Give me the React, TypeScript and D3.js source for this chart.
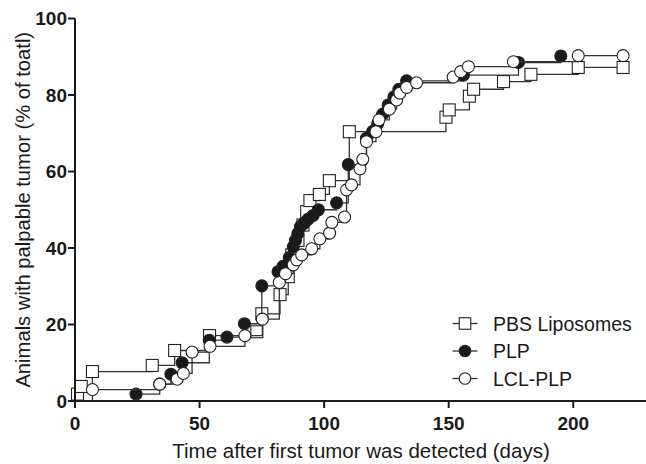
import React from "react";
import * as d3 from "d3";

const pbsDays = [1, 2.5, 7, 31, 40, 54, 73, 75, 82.3, 85.6, 87, 89.5, 91.5, 93, 94.3, 98.1, 102.1, 110.1, 148.9, 150.2, 158.3, 160, 172, 183, 202, 220];
const pbsPct = [1.8, 3.8, 7.7, 9.3, 13.2, 17.1, 18.1, 22.8, 27.8, 32.5, 38.2, 42, 46, 49.5, 52.4, 54, 57.6, 70.4, 74.2, 76.1, 79.7, 81.5, 83.5, 85.4, 87.2, 87.2];

const plpDays = [24.5, 34, 38.5, 43, 53.9, 61, 68, 75, 81.5, 83.5, 86, 87.6, 88.5, 89.5, 90.5, 92, 93.5, 95.6, 97.7, 105, 109.7, 117, 119.5, 121.5, 123.5, 125.7, 128, 130, 133.1, 155.9, 178, 195];
const plpPct = [1.8, 4.4, 7, 10, 15.9, 16.7, 20.2, 30.1, 33.8, 35.2, 37.5, 40.3, 42, 43.8, 45.6, 46.5, 47.5, 48.5, 50, 51.8, 61.8, 68.7, 70.5, 72.5, 75, 77.4, 79.5, 81.5, 83.7, 85.2, 88.5, 90.2];

const lclDays = [7, 34, 41, 43.5, 47, 54.2, 68.2, 75.2, 82, 84.5, 87.6, 89, 91, 95, 98.3, 102.2, 103.1, 108.2, 109, 111, 114.4, 115.5, 117, 120.8, 122, 126.2, 129.1, 130.4, 133.1, 137.1, 151.8, 154.8, 157.9, 176, 202, 220];
const lclPct = [3, 4.4, 5.7, 7.2, 12.8, 14.3, 17.1, 21.4, 31, 33.3, 35.6, 36.9, 38.2, 39.8, 42.4, 43.9, 46.7, 48.1, 55.2, 56.5, 60.7, 63.2, 67.8, 70.4, 73.5, 76.3, 78.7, 80.5, 82, 83.2, 84.7, 86.1, 87.4, 88.7, 90.3, 90.3];

const seriesNames = ["PBS Liposomes", "PLP", "LCL-PLP"];
const xTicks = [0, 50, 100, 150, 200];
const yTicks = [0, 20, 40, 60, 80, 100];

const W = 646;
const H = 464;
const FONT = "'Liberation Sans', Arial, Helvetica, sans-serif";

type Pt = { d: number; v: number };

function toPts(days: number[], pct: number[]): Pt[] {
  return days.map((d, i) => ({ d, v: pct[i] }));
}

const series = [
  { name: seriesNames[0], pts: toPts(pbsDays, pbsPct), shape: "square", fill: "#fff" },
  { name: seriesNames[1], pts: toPts(plpDays, plpPct), shape: "circle", fill: "#1a1a1a" },
  { name: seriesNames[2], pts: toPts(lclDays, lclPct), shape: "circle", fill: "#fff" },
];

function Marker({ shape, cx, cy, fill, size }: { shape: string; cx: number; cy: number; fill: string; size: number }) {
  if (shape === "square") {
    return <rect x={cx - size / 2} y={cy - size / 2} width={size} height={size} fill={fill} stroke="#222" strokeWidth={1.1} />;
  }
  return <circle cx={cx} cy={cy} r={size / 2} fill={fill} stroke="#222" strokeWidth={1.1} />;
}

export default function App() {
  const x = d3.scaleLinear().domain([0, 230]).range([75, 648]);
  const y = d3.scaleLinear().domain([0, 100]).range([401, 18.5]);

  const line = d3
    .line<Pt>()
    .x((p) => x(p.d))
    .y((p) => y(p.v))
    .curve(d3.curveStepAfter);

  return (
    <svg width={W} height={H} style={{ position: "absolute", left: 0, top: 0, background: "#fff" }}>
      {series.map((s) => (
        <g key={s.name}>
          <path d={line([{ d: 0, v: 0 }, ...s.pts]) || ""} fill="none" stroke="#333" strokeWidth={1.3} />
          {s.pts.map((p, i) => (
            <Marker key={i} shape={s.shape} cx={x(p.d)} cy={y(p.v)} fill={s.fill} size={12} />
          ))}
        </g>
      ))}

      {/* axes */}
      <line x1={x(0)} x2={x(0)} y1={y(0) + 1} y2={y(100)} stroke="#1a1a1a" strokeWidth={2} />
      <line x1={x(0) - 1} x2={W} y1={y(0)} y2={y(0)} stroke="#1a1a1a" strokeWidth={2} />
      {yTicks.map((t) => (
        <g key={"y" + t}>
          <line x1={x(0) - 7} x2={x(0)} y1={y(t)} y2={y(t)} stroke="#1a1a1a" strokeWidth={2} />
          <text x={x(0) - 8} y={y(t)} dy="0.36em" textAnchor="end" fontFamily={FONT} fontWeight="bold" fontSize={19} fill="#1a1a1a">
            {t}
          </text>
        </g>
      ))}
      {xTicks.map((t) => (
        <g key={"x" + t}>
          <line x1={x(t)} x2={x(t)} y1={y(0)} y2={y(0) + 7} stroke="#1a1a1a" strokeWidth={2} />
          <text x={x(t)} y={430} textAnchor="middle" fontFamily={FONT} fontWeight="bold" fontSize={19} fill="#1a1a1a">
            {t}
          </text>
        </g>
      ))}

      <text x={361} y={458} textAnchor="middle" fontFamily={FONT} fontSize={20.5} fill="#1a1a1a">
        Time after first tumor was detected (days)
      </text>
      <text transform={`translate(30,${(y(0) + y(100)) / 2}) rotate(-90)`} textAnchor="middle" fontFamily={FONT} fontSize={20.2} fill="#1a1a1a">
        Animals with palpable tumor (% of toatl)
      </text>

      {/* legend */}
      {series.map((s, i) => {
        const ly = 323.5 + i * 27.5;
        return (
          <g key={"lg" + i}>
            <line x1={452.5} x2={477.5} y1={ly} y2={ly} stroke="#333" strokeWidth={1.3} />
            <Marker shape={s.shape} cx={465} cy={ly} fill={s.fill} size={11.5} />
            <text x={493} y={ly} dy="0.36em" fontFamily={FONT} fontSize={19.5} fill="#1a1a1a">
              {s.name}
            </text>
          </g>
        );
      })}
    </svg>
  );
}
